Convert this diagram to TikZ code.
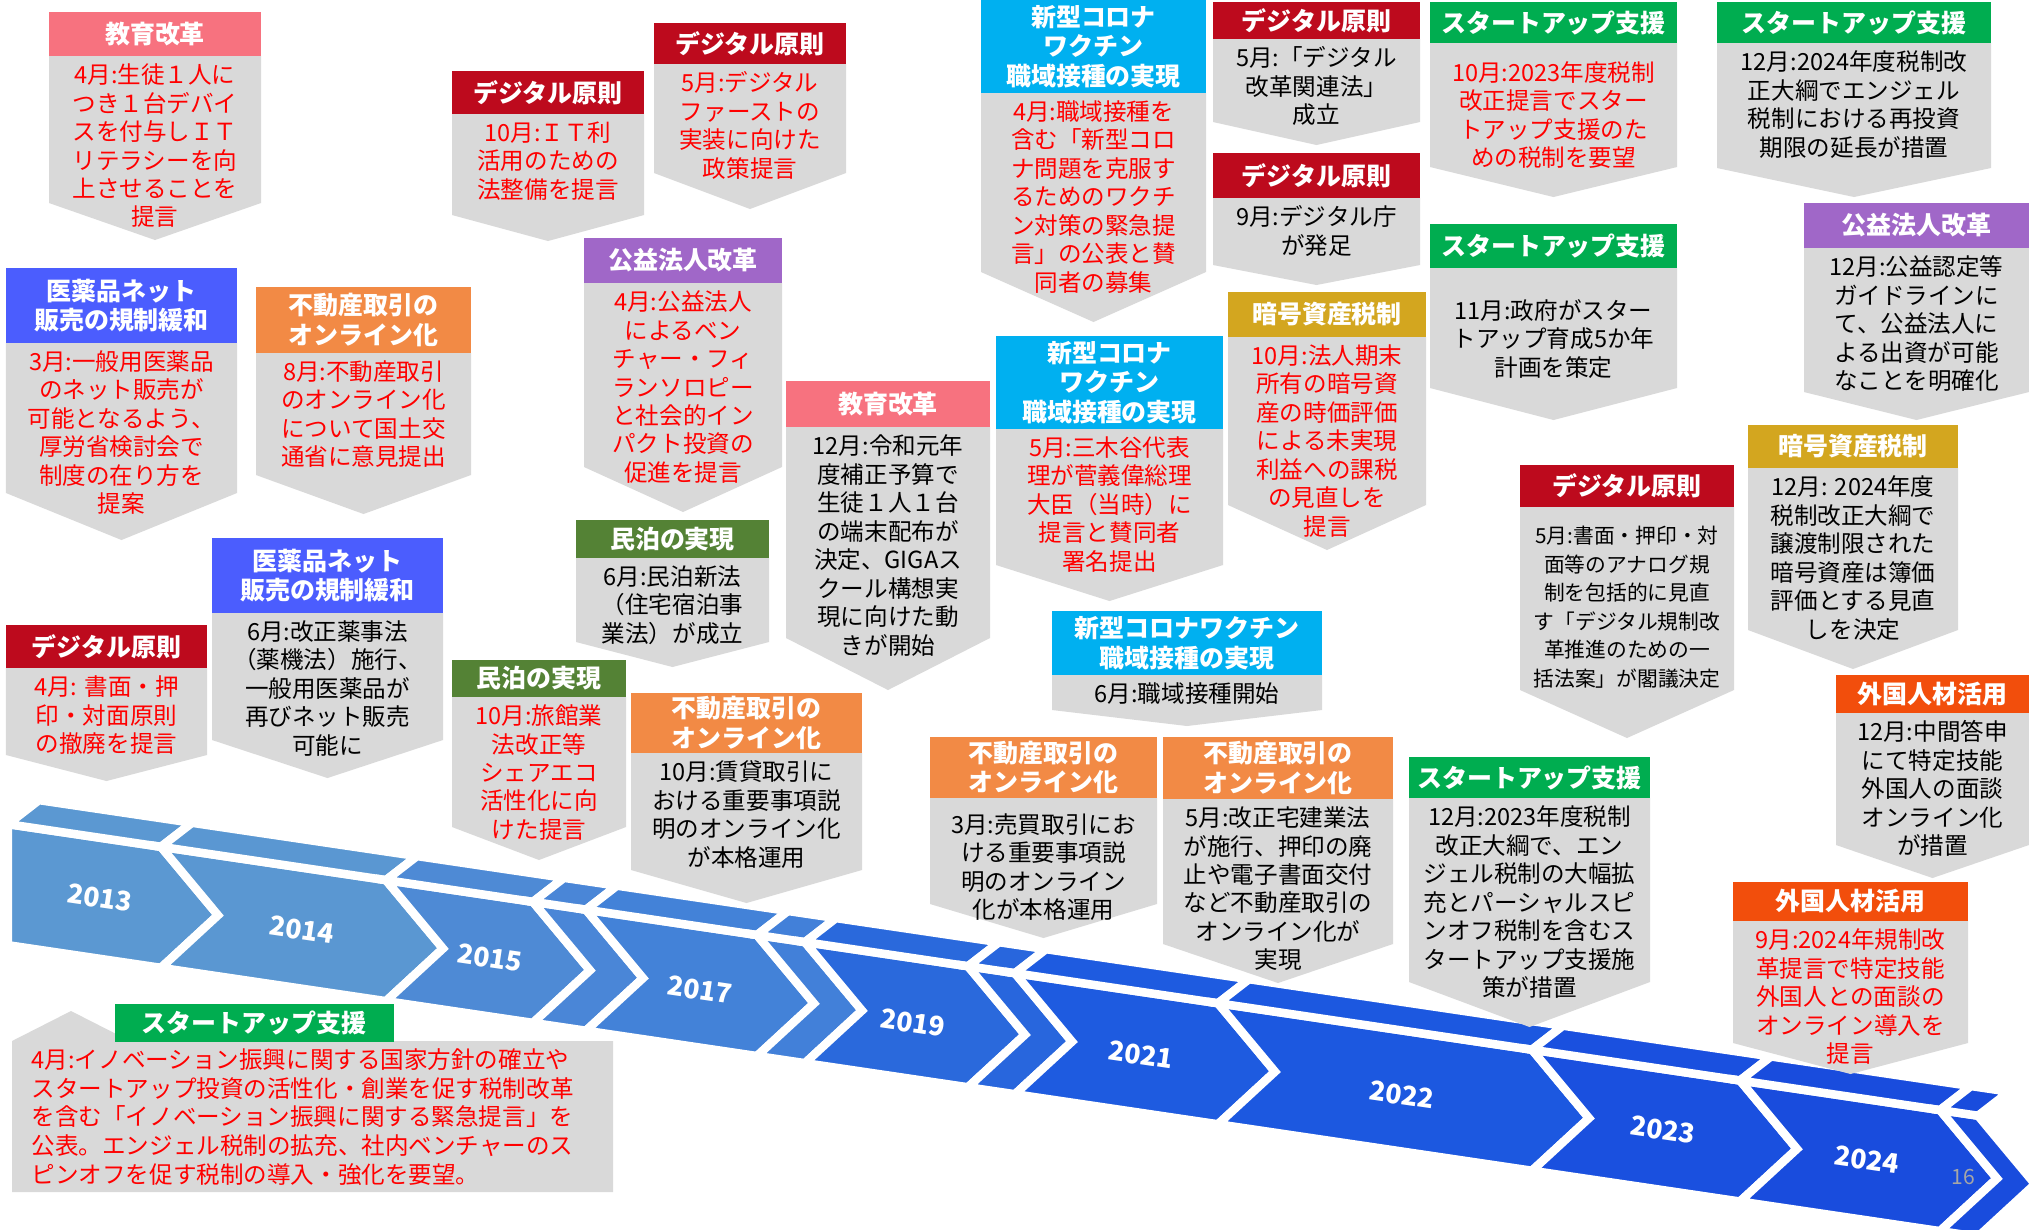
\documentclass[tikz,border=0pt]{standalone}
\usepackage{fontspec}
\setmainfont{Noto Sans CJK JP}
\usepackage{tikz}
\definecolor{kyoikuc}{HTML}{F7727F}
\definecolor{iyakuc}{HTML}{4B5DFE}
\definecolor{fudosanc}{HTML}{F28A45}
\definecolor{digitalc}{HTML}{BD0A1D}
\definecolor{koekic}{HTML}{A067C8}
\definecolor{minpakuc}{HTML}{548235}
\definecolor{coronac}{HTML}{00B0F0}
\definecolor{startupc}{HTML}{00AD50}
\definecolor{cryptoc}{HTML}{D3A61F}
\definecolor{gaikokuc}{HTML}{F24E0C}
\definecolor{boxgray}{HTML}{D9D9D9}
\definecolor{txtred}{HTML}{FF0000}
\definecolor{pagegray}{HTML}{A6A6A6}
\definecolor{y13}{HTML}{5B98D2}
\definecolor{y14}{HTML}{5A97D2}
\definecolor{y15}{HTML}{4E8AD5}
\definecolor{y16}{HTML}{4A86D7}
\definecolor{y17}{HTML}{4382D8}
\definecolor{y18}{HTML}{4280D9}
\definecolor{y19}{HTML}{2A69DC}
\definecolor{y20}{HTML}{2866DD}
\definecolor{y21}{HTML}{1E5BE0}
\definecolor{y22}{HTML}{1C58E0}
\definecolor{y23}{HTML}{1A50DF}
\definecolor{y24}{HTML}{194CDD}
\newcommand{\hdrfont}{\fontsize{7.1}{8.4}\selectfont\bfseries}
\newcommand{\txtfont}{\fontsize{6.7}{8.1}\selectfont}
\newcommand{\yrfont}{\fontsize{7.6}{8}\selectfont\bfseries}
\newcommand{\pushdown}[1]{\rule{0pt}{\dimexpr 0.88em+#1\relax}}
\tikzset{
  hdr/.style={text=white,font=\hdrfont,align=center,inner sep=0pt},
  txt/.style={text=black,font=\txtfont,align=center,inner sep=0pt},
  redbody/.style={text=txtred},
  smalltxt/.style={font=\fontsize{5.9}{8.1}\selectfont},
  band/.style={draw=white,line width=2.4pt,line join=miter},
  yearlbl/.style={text=white,font=\yrfont,rotate=-8.4,inner sep=0pt},
  kyoiku/.style={fill=kyoikuc},
  iyaku/.style={fill=iyakuc},
  fudosan/.style={fill=fudosanc},
  digital/.style={fill=digitalc},
  koeki/.style={fill=koekic},
  minpaku/.style={fill=minpakuc},
  corona/.style={fill=coronac},
  startup/.style={fill=startupc},
  crypto/.style={fill=cryptoc},
  gaikoku/.style={fill=gaikokuc}
}
% x1, x2, header top, header bottom, side end, tip, style, header, body
\def\callout#1#2#3#4#5#6#7#8#9{%
  \fill[boxgray] (#1,#4) -- (#2,#4) -- (#2,#5) -- ({(#1+#2)/2},#6) -- (#1,#5) -- cycle;
  \fill[#7] (#1,#3) rectangle (#2,#4);
  \node[#7,hdr,fill=none] (h#1-#3) at ({(#1+#2)/2},{(#3+#4)/2}) {#8};
  \node[txt,#7,fill=none,anchor=north] (b#1-#3) at ({(#1+#2)/2},#4+7) {#9};
}

\begin{document}
\begin{tikzpicture}[x=0.01cm,y=-0.01cm]
  \fill[white] (0,0) rectangle (2029,1229);
  \useasboundingbox (0,0) rectangle (2029,1229);

  % timeline band
  \foreach \L/\R/\c in {8/161/y13,161/386/y14,386/533/y15,533/586/y16,586/757/y17,
      757/805/y18,805/968/y19,968/1015/y20,1015/1218/y21,1218/1532/y22,
      1532/1740/y23,1740/1940/y24,1940/1978/y24}{
    \pgfmathsetmacro\nd{(\L>10)*57}
    \pgfmathsetmacro\tl{824+0.148*(\L-7)}
    \pgfmathsetmacro\tr{824+0.148*(\R-7)}
    \pgfmathsetmacro\tp{824+0.148*(\R+50)+60}
    \pgfmathsetmacro\np{824+0.148*(\L+\nd-7)+60}
    \filldraw[band,fill=\c] (\L,\tl) -- (\R,\tr) -- (\R+57,\tp) -- (\R,\tr+121)
      -- (\L,\tl+121) -- (\L+\nd,\np) -- cycle;
    \filldraw[band,fill=\c] (\L,\tl) -- (\R,\tr) -- (\R+31,\tr-24) -- (\L+31,\tl-24) -- cycle;
  }
  \foreach \yr/\lx/\ly in {2013/100/898,2014/302/930,2015/490/958,2017/700/990,
      2019/913/1023,2021/1141/1055,2022/1402/1095,2023/1663/1130,2024/1867/1160}
    \node[yearlbl] (yr\yr) at (\lx,\ly) {\yr};
  \node[text=pagegray,font=\fontsize{6}{7}\selectfont,inner sep=0pt] (pg) at (1963,1177) {16};

  % callouts
  \callout{49}{261}{12}{56}{203}{240}{kyoiku,redbody}{教育改革}
    {4月:生徒１人に\\つき１台デバイ\\スを付与しＩＴ\\リテラシーを向\\上させることを\\提言}
  \callout{6}{237}{268}{343}{493}{540}{iyaku,redbody}{医薬品ネット\\販売の規制緩和}
    {3月:一般用医薬品\\のネット販売が\\可能となるよう、\\厚労省検討会で\\制度の在り方を\\提案}
  \callout{256}{471}{287}{353}{475}{514}{fudosan,redbody}{不動産取引の\\オンライン化}
    {8月:不動産取引\\のオンライン化\\について国土交\\通省に意見提出}
  \callout{6}{207}{625}{668}{755}{781}{digital,redbody}{デジタル原則}
    {4月: 書面・押\\印・対面原則\\の撤廃を提言}
  \callout{212}{443}{538}{613}{740}{778}{iyaku}{医薬品ネット\\販売の規制緩和}
    {6月:改正薬事法\\（薬機法）施行、\\一般用医薬品が\\再びネット販売\\可能に}
  \callout{452}{644}{71}{114}{215}{241}{digital,redbody}{デジタル原則}
    {10月:ＩＴ利\\活用のための\\法整備を提言}
  \callout{654}{846}{23}{64}{173}{209}{digital,redbody}{デジタル原則}
    {5月:デジタル\\ファーストの\\実装に向けた\\政策提言}
  \callout{584}{782}{238}{283}{467}{512}{koeki,redbody}{公益法人改革}
    {4月:公益法人\\によるベン\\チャー・フィ\\ランソロピー\\と社会的イン\\パクト投資の\\促進を提言}
  \callout{576}{769}{520}{558}{642}{667}{minpaku}{民泊の実現}
    {6月:民泊新法\\（住宅宿泊事\\業法）が成立}
  \callout{786}{990}{381}{427}{638}{690}{kyoiku}{教育改革}
    {12月:令和元年\\度補正予算で\\生徒１人１台\\の端末配布が\\決定、GIGAス\\クール構想実\\現に向けた動\\きが開始}
  \callout{452}{626}{660}{697}{827}{860}{minpaku,redbody}{民泊の実現}
    {10月:旅館業\\法改正等\\シェアエコ\\活性化に向\\けた提言}
  \callout{631}{862}{693}{753}{870}{903}{fudosan}{不動産取引の\\オンライン化}
    {10月:賃貸取引に\\おける重要事項説\\明のオンライン化\\が本格運用}
  \callout{981}{1206}{0}{93}{272}{322}{corona,redbody}{新型コロナ\\ワクチン\\職域接種の実現}
    {4月:職域接種を\\含む「新型コロ\\ナ問題を克服す\\るためのワクチ\\ン対策の緊急提\\言」の公表と賛\\同者の募集}
  \callout{1213}{1420}{2}{39}{122}{145}{digital}{デジタル原則}
    {5月:「デジタル\\改革関連法」\\成立}
  \callout{1213}{1420}{153}{198}{265}{285}{digital}{デジタル原則}
    {9月:デジタル庁\\が発足}
  \callout{1430}{1677}{2}{43}{167}{197}{startup,redbody}{スタートアップ支援}
    {\pushdown{2.8pt}10月:2023年度税制\\改正提言でスター\\トアップ支援のた\\めの税制を要望}
  \callout{1717}{1991}{2}{43}{168}{197}{startup}{スタートアップ支援}
    {12月:2024年度税制改\\正大綱でエンジェル\\税制における再投資\\期限の延長が措置}
  \callout{1430}{1677}{224}{268}{388}{420}{startup}{スタートアップ支援}
    {\pushdown{6.5pt}11月:政府がスター\\トアップ育成5か年\\計画を策定}
  \callout{1804}{2029}{203}{248}{392}{420}{koeki}{公益法人改革}
    {12月:公益認定等\\ガイドラインに\\て、公益法人に\\よる出資が可能\\なことを明確化}
  \callout{1228}{1426}{292}{337}{505}{550}{crypto,redbody}{暗号資産税制}
    {10月:法人期末\\所有の暗号資\\産の時価評価\\による未実現\\利益への課税\\の見直しを\\提言}
  \callout{996}{1223}{336}{429}{565}{601}{corona,redbody}{新型コロナ\\ワクチン\\職域接種の実現}
    {5月:三木谷代表\\理が菅義偉総理\\大臣（当時）に\\提言と賛同者\\署名提出}
  \callout{1052}{1322}{611}{675}{710}{726}{corona}{新型コロナワクチン\\職域接種の実現}
    {6月:職域接種開始}
  \callout{1520}{1734}{465}{507}{690}{738}{digital,smalltxt}{デジタル原則}
    {\pushdown{3.1pt}5月:書面・押印・対\\面等のアナログ規\\制を包括的に見直\\す「デジタル規制改\\革推進のための一\\括法案」が閣議決定}
  \callout{1748}{1958}{425}{468}{630}{669}{crypto}{暗号資産税制}
    {12月: 2024年度\\税制改正大綱で\\譲渡制限された\\暗号資産は簿価\\評価とする見直\\しを決定}
  \callout{1836}{2029}{675}{713}{845}{878}{gaikoku}{外国人材活用}
    {12月:中間答申\\にて特定技能\\外国人の面談\\オンライン化\\が措置}
  \callout{1733}{1968}{882}{921}{1043}{1074}{gaikoku,redbody}{外国人材活用}
    {9月:2024年規制改\\革提言で特定技能\\外国人との面談の\\オンライン導入を\\提言}
  \callout{930}{1157}{737}{798}{904}{938}{fudosan}{不動産取引の\\オンライン化}
    {\pushdown{2pt}3月:売買取引にお\\ける重要事項説\\明のオンライン\\化が本格運用}
  \callout{1163}{1393}{737}{799}{944}{983}{fudosan}{不動産取引の\\オンライン化}
    {5月:改正宅建業法\\が施行、押印の廃\\止や電子書面交付\\など不動産取引の\\オンライン化が\\実現}
  \callout{1409}{1650}{757}{798}{982}{1027}{startup}{スタートアップ支援}
    {12月:2023年度税制\\改正大綱で、エン\\ジェル税制の大幅拡\\充とパーシャルスピ\\ンオフ税制を含むス\\タートアップ支援施\\策が措置}

  % bottom note pointing up
  \fill[boxgray] (12,1192) -- (12,1041) -- (71,1011) -- (130,1041) -- (613,1041) -- (613,1192) -- cycle;
  \fill[startup] (115,1004) rectangle (394,1042);
  \node[startup,hdr,fill=none] (h115-1004) at (254,1023) {スタートアップ支援};
  \node[txt,redbody,font=\fontsize{6.7}{8.2}\selectfont,align=left,anchor=west] (b115-1004) at (31,1117)
    {4月:イノベーション振興に関する国家方針の確立や\\スタートアップ投資の活性化・創業を促す税制改革\\を含む「イノベーション振興に関する緊急提言」を\\公表。エンジェル税制の拡充、社内ベンチャーのス\\ピンオフを促す税制の導入・強化を要望。};
\end{tikzpicture}
\end{document}
